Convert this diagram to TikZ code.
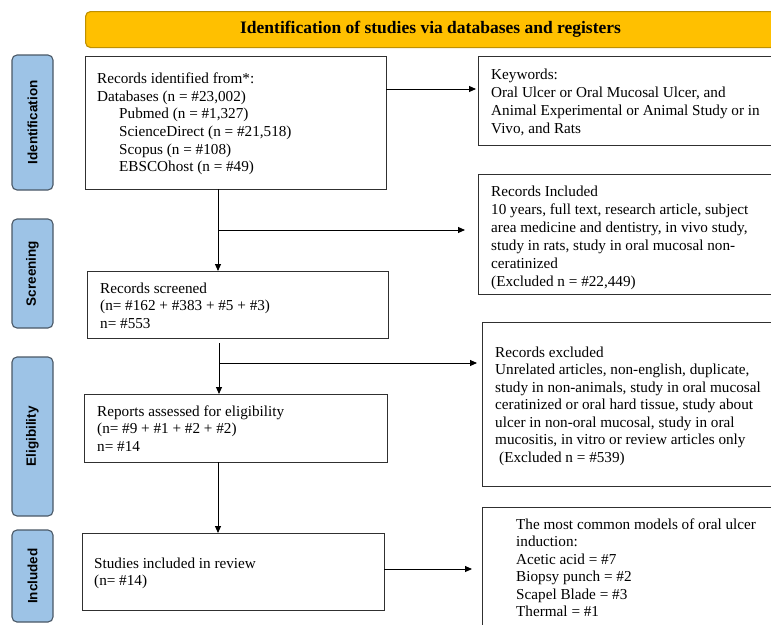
\documentclass[tikz,border=0pt]{standalone}
\usepackage{fontspec}
\setmainfont{Liberation Serif}
\setsansfont{Liberation Sans}
\usetikzlibrary{arrows.meta}
\definecolor{hdrfill}{HTML}{FFC000}
\definecolor{hdrdraw}{HTML}{BF9000}
\definecolor{sidefill}{HTML}{9DC3E6}
\definecolor{sidedraw}{HTML}{4A5866}
\definecolor{boxdraw}{HTML}{303030}
\tikzset{
  box/.style={draw=boxdraw, line width=1.1pt, fill=white, anchor=north west, inner sep=0pt},
  sidelab/.style={draw=sidedraw, fill=sidefill, line width=1.1pt, rounded corners=5pt,
    rotate=90, inner sep=0pt, font=\sffamily\bfseries\fontsize{13.5}{15}\selectfont},
  header/.style={draw=hdrdraw, fill=hdrfill, line width=1.1pt, rounded corners=5pt,
    anchor=north west, inner sep=0pt, font=\bfseries\fontsize{17.5}{19}\selectfont},
  txt/.style={anchor=north west, align=left, inner sep=0pt, font=\fontsize{15.2}{17.6}\selectfont},
  arr/.style={line width=0.9pt, draw=black, -{Triangle[length=7pt,width=6pt]}},
  ln/.style={line width=0.9pt, draw=black}
}
\begin{document}
\begin{tikzpicture}[x=1pt,y=-1pt]
\useasboundingbox (0,0) rectangle (771,624);
\clip (0,0) rectangle (771,624);
% header
\node[header, minimum width=690pt, minimum height=36pt] (hdr) at (85,11) {Identification of studies via databases and registers};
% side labels
\node[sidelab, minimum width=135pt, minimum height=41pt] (sid) at (32.5,122.5) {Identification};
\node[sidelab, minimum width=109pt, minimum height=41pt] (sscr) at (32.5,273.5) {Screening};
\node[sidelab, minimum width=159pt, minimum height=41pt] (selig) at (32.5,436.5) {Eligibility};
\node[sidelab, minimum width=92pt, minimum height=41pt] (sinc) at (32.5,576) {Included};
% boxes
\node[box, minimum width=301pt, minimum height=133pt] (ident) at (85,56) {};
\node[box, minimum width=310pt, minimum height=89pt] (keyw) at (478,56) {};
\node[box, minimum width=310pt, minimum height=120pt] (incl) at (478,174) {};
\node[box, minimum width=301pt, minimum height=67pt] (scr) at (87,271) {};
\node[box, minimum width=305pt, minimum height=164pt] (excl) at (482,322) {};
\node[box, minimum width=303pt, minimum height=68pt] (elig) at (84,394) {};
\node[box, minimum width=302pt, minimum height=77pt] (increv) at (82,533) {};
\node[box, minimum width=305pt, minimum height=140pt] (models) at (482,507) {};
% texts (first line carries a strut: node top = baseline - 0.7 baselineskip)
\node[txt] (tident) at (97,71.2) {\strut Records identified from*:\\Databases (n = \#23,002)\\
\hspace*{22pt}Pubmed (n = \#1,327)\\\hspace*{22pt}ScienceDirect (n = \#21,518)\\
\hspace*{22pt}Scopus (n = \#108)\\\hspace*{22pt}EBSCOhost (n = \#49)};
\node[txt, font=\fontsize{15.2}{18}\selectfont] (tkeyw) at (491,66.8) {\strut Keywords:\\Oral Ulcer  or Oral Mucosal Ulcer,  and\\Animal Experimental or Animal Study or in\\Vivo, and Rats};
\node[txt, font=\fontsize{15.2}{18}\selectfont] (tincl) at (491,183.4) {\strut Records Included\\10 years, full text, research article, subject\\area medicine and dentistry, in vivo study,\\study in rats, study in oral mucosal non-\\ceratinized\\(Excluded n = \#22,449)};
\node[txt] (tscr) at (100,280.7) {\strut Records screened\\(n= \#162 + \#383 + \#5 + \#3)\\n= \#553};
\node[txt, font=\fontsize{15.2}{17.5}\selectfont] (texcl) at (495,344.8) {\strut Records excluded\\Unrelated articles, non-english,  duplicate,\\study in non-animals, study in  oral mucosal\\ceratinized or oral hard tissue, study about\\ulcer in non-oral mucosal, study in oral\\mucositis, in vitro or review  articles only\\\hspace*{4pt}(Excluded n = \#539)};
\node[txt] (telig) at (97,403.7) {\strut Reports assessed for eligibility\\(n= \#9 + \#1 + \#2 + \#2)\\n= \#14};
\node[txt] (tincrev) at (94,555.7) {\strut Studies included in review\\(n= \#14)};
\node[txt, font=\fontsize{15.2}{17.5}\selectfont] (tmodels) at (516,516.8) {\strut The most common models of oral ulcer\\induction:\\Acetic acid = \#7\\Biopsy punch = \#2\\Scapel Blade = \#3\\Thermal = \#1};
% connectors
\coordinate (k1) at (386,89);
\draw[arr, shorten >=2pt] (k1) -- (k1 -| keyw.west);
\coordinate (v1) at (218,189);
\coordinate (b1) at (218,230);
\draw[arr] (v1) -- (v1 |- scr.north);
\draw[arr, shorten >=13pt] (b1) -- (b1 -| incl.west);
\coordinate (v2) at (219,343);
\coordinate (b2) at (219,363);
\draw[arr] (v2) -- (v2 |- elig.north);
\draw[arr, shorten >=5pt] (b2) -- (b2 -| excl.west);
\coordinate (v3) at (218,462);
\draw[arr] (v3) -- (v3 |- increv.north);
\coordinate (k4) at (384,569);
\draw[arr, shorten >=10pt] (k4) -- (k4 -| models.west);
\end{tikzpicture}
\end{document}
